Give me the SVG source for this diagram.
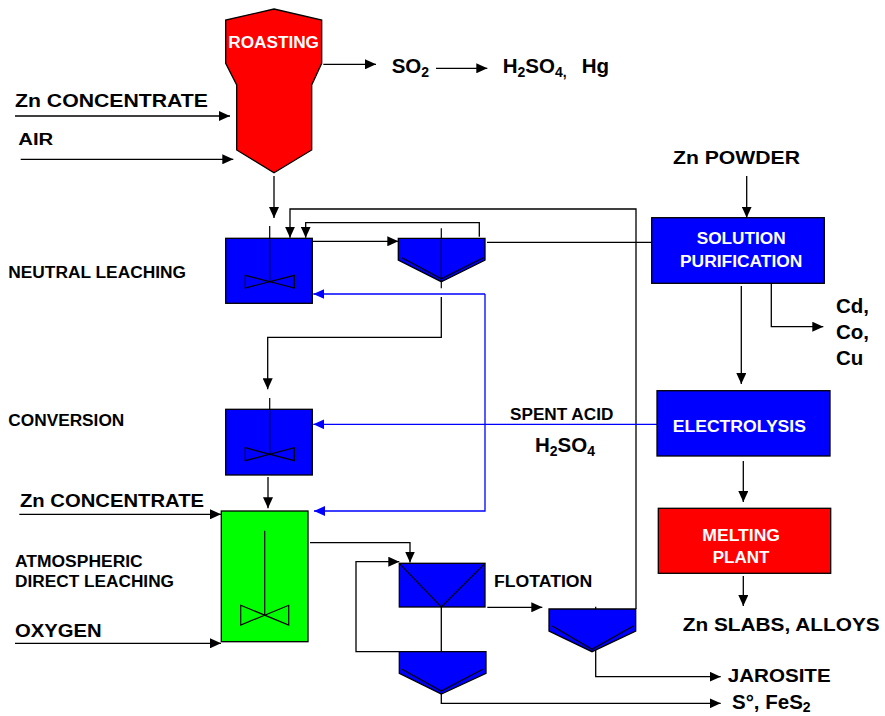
<svg xmlns="http://www.w3.org/2000/svg" width="885" height="716" viewBox="0 0 885 716">
<defs>
<marker id="ah" markerUnits="userSpaceOnUse" markerWidth="12" markerHeight="10" refX="11" refY="5" orient="auto"><path d="M0,0 L11,5 L0,10 Z" fill="#000"/></marker>
<marker id="ahb" markerUnits="userSpaceOnUse" markerWidth="12" markerHeight="10" refX="11" refY="5" orient="auto"><path d="M0,0 L11,5 L0,10 Z" fill="#0000FF"/></marker>
<style>
text{font-family:"Liberation Sans",Arial,sans-serif;font-weight:bold;fill:#000}
.lg{font-size:19px}
.xl{font-size:20.5px}
.md{font-size:16px}
.wt{fill:#fff;font-size:16px}
.ln{fill:none;stroke:#000;stroke-width:1.3}
.bl{fill:none;stroke:#0000FF;stroke-width:1.3}
.eq{stroke:#000;stroke-width:1.3}
.blue{fill:#0000FF}
.sh{fill:none;stroke:#000;stroke-width:1.2}
</style>
</defs>
<rect width="885" height="716" fill="#fff"/>

<g id="connectors">
<line class="ln" x1="15" y1="116" x2="230" y2="116" marker-end="url(#ah)"/>
<line class="ln" x1="20.7" y1="159.3" x2="233.3" y2="159.3" marker-end="url(#ah)"/>
<line class="ln" x1="323.3" y1="64.3" x2="376" y2="64.3" marker-end="url(#ah)"/>
<line class="ln" x1="436" y1="68.3" x2="487.3" y2="68.3" marker-end="url(#ah)"/>
<line class="ln" x1="274" y1="176" x2="274" y2="218" marker-end="url(#ah)"/>
<polyline class="ln" points="636,609 636,209 290,209 290,237.7" marker-end="url(#ah)"/>
<polyline class="ln" points="479.3,236.7 479.3,222.7 305.7,222.7 305.7,237.7" marker-end="url(#ah)"/>
<line class="ln" x1="312.3" y1="241.3" x2="398.3" y2="241.3" marker-end="url(#ah)"/>
<line class="ln" x1="487" y1="242.3" x2="651.7" y2="242.3"/>
<polyline class="bl" points="485,294 485,511 314,511" marker-end="url(#ahb)"/>
<line class="bl" x1="485" y1="294" x2="313.3" y2="294" marker-end="url(#ahb)"/>
<line class="bl" x1="657" y1="424.3" x2="313.3" y2="424.3" marker-end="url(#ahb)"/>
<polyline class="ln" points="441.3,297 441.3,337.3 267.7,337.3 267.7,389.3" marker-end="url(#ah)"/>
<line class="ln" x1="268" y1="477" x2="268" y2="508.3" marker-end="url(#ah)"/>
<line class="ln" x1="19.3" y1="514.3" x2="221" y2="514.3" marker-end="url(#ah)"/>
<line class="ln" x1="15" y1="643.3" x2="221" y2="643.3" marker-end="url(#ah)"/>
<polyline class="ln" points="310,542.7 410,542.7 410,562.5" marker-end="url(#ah)"/>
<polyline class="ln" points="399.3,651.7 356,651.7 356,561.7 399.3,561.7" marker-end="url(#ah)"/>
<line class="ln" x1="487.3" y1="607.3" x2="542.3" y2="607.3" marker-end="url(#ah)"/>
<polyline class="ln" points="441.3,607 441.3,703.3 720.7,703.3" marker-end="url(#ah)"/>
<polyline class="ln" points="595.7,606.7 595.7,676.7 720.7,676.7" marker-end="url(#ah)"/>
<line class="ln" x1="746.7" y1="176" x2="746.7" y2="217.7" marker-end="url(#ah)"/>
<line class="ln" x1="741.3" y1="286" x2="741.3" y2="384" marker-end="url(#ah)"/>
<polyline class="ln" points="771.3,283.3 771.3,326.7 823.3,326.7" marker-end="url(#ah)"/>
<line class="ln" x1="743.3" y1="461" x2="743.3" y2="502" marker-end="url(#ah)"/>
<line class="ln" x1="743.3" y1="576" x2="743.3" y2="606" marker-end="url(#ah)"/>
</g>

<g id="roasting">
<polygon points="274,9 321.7,20 321.7,63.3 311.7,85 311.7,150 274,172.7 236.7,150 236.7,85 225.7,63.3 225.7,20" fill="#FF0000" class="eq"/>
<text class="wt" x="228.3" y="48.3" textLength="90.7" lengthAdjust="spacingAndGlyphs">ROASTING</text>
</g>

<g id="neutral-leaching">
<rect x="225.7" y="238.3" width="86.6" height="65" class="blue eq"/>
<line class="sh" x1="269.7" y1="226" x2="269.7" y2="281.5"/>
<polygon class="sh" points="245.3,275.3 294.3,288 294.3,275.3 245.3,288"/>
</g>

<g id="thickener-1">
<polygon points="398.3,238.3 485,238.3 485,260 441.3,281.7 398.3,260" class="blue eq"/>
<polyline class="sh" points="402,257.7 441.3,278.7 483.3,257.7"/>
<line class="sh" x1="441.3" y1="228.3" x2="441.3" y2="288.3"/>
</g>

<g id="conversion">
<rect x="225.7" y="409.3" width="86.6" height="65.7" class="blue eq"/>
<line class="sh" x1="269.7" y1="398" x2="269.7" y2="454"/>
<polygon class="sh" points="245.3,447.7 294.3,460.7 294.3,447.7 245.3,460.7"/>
</g>

<g id="atmospheric-direct-leaching">
<rect x="221.3" y="511" width="86.7" height="130.7" fill="#00FF00" class="eq"/>
<line class="sh" x1="264.7" y1="530.7" x2="264.7" y2="615"/>
<polygon class="sh" points="240.7,605.3 288.7,625 288.7,605.3 240.7,625"/>
</g>

<g id="flotation">
<rect x="399.3" y="563.3" width="85.7" height="43.7" class="blue eq"/>
<polyline class="sh" points="399.3,563.3 441.3,607 485,563.3"/>
<text class="md" x="494" y="587.3" textLength="98.3" lengthAdjust="spacingAndGlyphs">FLOTATION</text>
</g>

<g id="thickener-2">
<polygon points="399.3,651.7 486,651.7 486,673.3 441.3,694 399.3,673.3" class="blue eq"/>
<polyline class="sh" points="402,669.3 441.3,691 482.7,669.3"/>
</g>

<g id="thickener-3">
<polygon points="549,609 635.7,609 635.7,631 592,651.7 549,631" class="blue eq"/>
<polyline class="sh" points="552.3,626 592,649.3 633.3,626"/>
</g>

<g id="solution-purification">
<rect x="651.7" y="217.7" width="172.6" height="65.6" class="blue eq"/>
<text class="wt" x="696.7" y="244" textLength="89" lengthAdjust="spacingAndGlyphs">SOLUTION</text>
<text class="wt" x="680" y="267.3" textLength="122.3" lengthAdjust="spacingAndGlyphs">PURIFICATION</text>
</g>

<g id="electrolysis">
<rect x="657" y="390.7" width="173" height="65.3" class="blue eq"/>
<text class="wt" x="672.7" y="431.7" textLength="133.3" lengthAdjust="spacingAndGlyphs">ELECTROLYSIS</text>
</g>

<g id="melting-plant">
<rect x="658.3" y="508.3" width="172.4" height="65" fill="#FF0000" class="eq"/>
<text class="wt" x="702.3" y="540.7" textLength="77.7" lengthAdjust="spacingAndGlyphs">MELTING</text>
<text class="wt" x="712.7" y="563.3" textLength="56.6" lengthAdjust="spacingAndGlyphs">PLANT</text>
</g>

<g id="labels">
<text class="lg" x="15" y="106.7" textLength="193" lengthAdjust="spacingAndGlyphs">Zn CONCENTRATE</text>
<text class="md" x="18.3" y="145" textLength="35" lengthAdjust="spacingAndGlyphs">AIR</text>
<text class="xl" x="391.7" y="72.7">SO<tspan font-size="14" dy="4">2</tspan></text>
<text class="xl" x="502.7" y="72.7">H<tspan font-size="14" dy="4">2</tspan><tspan dy="-4">SO</tspan><tspan font-size="14" dy="4">4,</tspan></text>
<text class="xl" x="581.7" y="72.7">Hg</text>
<text class="md" x="8.3" y="278.3" textLength="177.7" lengthAdjust="spacingAndGlyphs">NEUTRAL LEACHING</text>
<text class="md" x="8.3" y="426" textLength="116" lengthAdjust="spacingAndGlyphs">CONVERSION</text>
<text class="lg" x="20" y="507.3" textLength="184" lengthAdjust="spacingAndGlyphs">Zn CONCENTRATE</text>
<text class="md" x="15" y="567.3" textLength="127.7" lengthAdjust="spacingAndGlyphs">ATMOSPHERIC</text>
<text class="md" x="15" y="587.3" textLength="159" lengthAdjust="spacingAndGlyphs">DIRECT LEACHING</text>
<text class="lg" x="15" y="637.3" textLength="86.7" lengthAdjust="spacingAndGlyphs">OXYGEN</text>
<text class="md" x="510" y="420" textLength="103.3" lengthAdjust="spacingAndGlyphs">SPENT ACID</text>
<text class="xl" x="535" y="451.7">H<tspan font-size="14" dy="4">2</tspan><tspan dy="-4">SO</tspan><tspan font-size="14" dy="4">4</tspan></text>
<text class="lg" x="673" y="164" textLength="127" lengthAdjust="spacingAndGlyphs">Zn POWDER</text>
<text class="xl" x="836" y="313">Cd,</text>
<text class="xl" x="836" y="339">Co,</text>
<text class="xl" x="836" y="365">Cu</text>
<text class="lg" x="682.7" y="630.7" textLength="197" lengthAdjust="spacingAndGlyphs">Zn SLABS, ALLOYS</text>
<text class="lg" x="727.7" y="681.7" textLength="103" lengthAdjust="spacingAndGlyphs">JAROSITE</text>
<text class="xl" x="732" y="708.5">S°, FeS<tspan font-size="14" dy="3">2</tspan></text>
</g>
</svg>
